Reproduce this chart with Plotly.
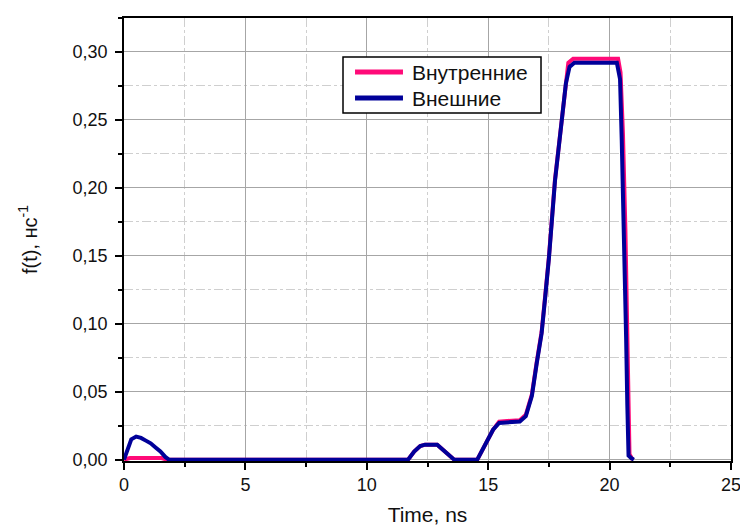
import plotly.graph_objects as go

# Data
t_inner = [0, 0.25, 1.55, 1.75, 11.7, 11.95, 12.2, 12.4, 12.9, 13.1, 13.35, 13.6, 14.55, 14.8, 15.0, 15.2,
           15.45, 16.3, 16.55, 16.8, 17.0, 17.2, 17.35, 17.5, 17.75, 18.0, 18.2, 18.3, 18.5, 20.35, 20.45,
           20.55, 20.65, 20.72, 20.77, 20.82, 20.95]
f_inner = [0, 0.0012, 0.0012, 0, 0, 0.006, 0.010, 0.011, 0.011, 0.008, 0.004, 0, 0, 0.009, 0.016, 0.022,
           0.028, 0.029, 0.033, 0.048, 0.072, 0.094, 0.121, 0.149, 0.206, 0.247, 0.279, 0.292, 0.295, 0.295,
           0.285, 0.24, 0.17, 0.10, 0.04, 0.004, 0]

t_outer = [0, 0.15, 0.3, 0.5, 0.7, 0.9, 1.1, 1.3, 1.5, 1.7, 1.85, 11.7, 11.95, 12.2, 12.4, 12.9, 13.1,
           13.35, 13.6, 14.55, 14.8, 15.0, 15.2, 15.45, 16.3, 16.55, 16.8, 17.0, 17.2, 17.35, 17.5, 17.75,
           18.0, 18.2, 18.35, 18.55, 20.3, 20.43, 20.5, 20.6, 20.68, 20.73, 20.78, 20.9, 21.0]
f_outer = [0, 0.008, 0.015, 0.017, 0.016, 0.014, 0.012, 0.009, 0.006, 0.002, 0, 0, 0.006, 0.010, 0.011,
           0.011, 0.008, 0.004, 0, 0, 0.009, 0.016, 0.022, 0.027, 0.028, 0.032, 0.047, 0.071, 0.093, 0.12,
           0.148, 0.205, 0.245, 0.277, 0.289, 0.292, 0.292, 0.28, 0.235, 0.165, 0.09, 0.04, 0.003, 0.001, 0]

names = ["Внутренние", "Внешние"]
colors = ["#ff0a78", "#000099"]

fig = go.Figure()
fig.add_trace(go.Scatter(x=t_inner, y=f_inner, mode="lines", name=names[0],
                         line=dict(color=colors[0], width=4), showlegend=False))
fig.add_trace(go.Scatter(x=t_outer, y=f_outer, mode="lines", name=names[1],
                         line=dict(color=colors[1], width=4), showlegend=False))

font_family = "Arial, Liberation Sans, sans-serif"
major_grid = "#a6a6a6"
minor_grid = "#cfcfcf"

# Legend drawn as box + sample lines + text (paper coordinates)
leg_x0, leg_x1, leg_y0, leg_y1 = 0.3608, 0.687, 0.7856, 0.912
sample_x0, sample_x1, text_x = 0.3806, 0.4596, 0.4712
rows_y = [0.8781, 0.8194]
shapes = [dict(type="rect", xref="paper", yref="paper", x0=leg_x0, x1=leg_x1, y0=leg_y0, y1=leg_y1,
               line=dict(color="black", width=1.5), fillcolor="white", layer="above")]
annotations = []
for name, col, yy in zip(names, colors, rows_y):
    shapes.append(dict(type="line", xref="paper", yref="paper", x0=sample_x0, x1=sample_x1, y0=yy, y1=yy,
                       line=dict(color=col, width=5), layer="above"))
    annotations.append(dict(xref="paper", yref="paper", x=text_x, y=yy, text=name, showarrow=False,
                            xanchor="left", yanchor="middle",
                            font=dict(size=21, family=font_family, color="#111")))

fig.update_layout(
    width=740, height=520,
    margin=dict(l=116, r=17, t=10, b=67),
    plot_bgcolor="white", paper_bgcolor="white",
    separators=", ",
    font=dict(family=font_family, size=18, color="#111"),
    showlegend=False,
    shapes=shapes, annotations=annotations,
    xaxis=dict(range=[0, 25], tick0=0, dtick=5, ticks="outside", ticklen=7, tickwidth=1.5,
               tickcolor="black", showline=True, linecolor="black", linewidth=1.5, mirror=True,
               showgrid=True, gridcolor=major_grid, gridwidth=1, zeroline=False,
               minor=dict(dtick=2.5, ticks="outside", ticklen=4, tickwidth=1.5, tickcolor="black",
                          showgrid=True, gridcolor=minor_grid, griddash="dashdot", gridwidth=1),
               title=dict(text="Time, ns", font=dict(size=21), standoff=13),
               automargin=False),
    xaxis2=dict(range=[0, 25], overlaying="x", side="top", tick0=0, dtick=5, ticks="outside",
                ticklen=7, tickwidth=1.5, tickcolor="black", showticklabels=False,
                showgrid=False, showline=False, zeroline=False,
                minor=dict(dtick=2.5, ticks="outside", ticklen=4, tickwidth=1.5, tickcolor="black",
                           showgrid=False)),
    yaxis=dict(range=[-0.001, 0.325], tick0=0, dtick=0.05, tickformat=".2f", ticks="outside",
               ticklen=7, tickwidth=1.5, tickcolor="black", showline=True, linecolor="black",
               linewidth=1.5, mirror=True, showgrid=True, gridcolor=major_grid, gridwidth=1,
               zeroline=False, ticklabelstandoff=4,
               minor=dict(dtick=0.025, ticks="outside", ticklen=4, tickwidth=1.5, tickcolor="black",
                          showgrid=True, gridcolor=minor_grid, griddash="dashdot", gridwidth=1),
               title=dict(text="f(t), нс<sup>-1</sup>", font=dict(size=20), standoff=30),
               automargin=False),
)

fig.write_html("out.html")
